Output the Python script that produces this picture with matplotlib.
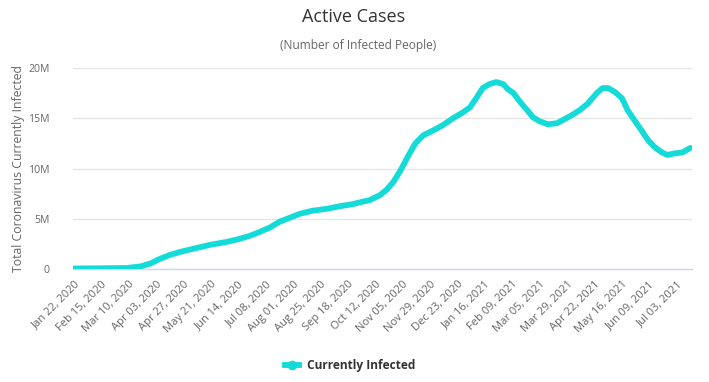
import matplotlib
matplotlib.use('Agg')
import matplotlib.pyplot as plt
from matplotlib.lines import Line2D

plt.rcParams['font.family'] = ['Open Sans', 'DejaVu Sans']

# Day offsets since Jan 22, 2020 and active cases (millions)
days = [0, 23, 46, 58, 67, 75, 84, 93, 104, 119,
        134, 145, 154, 163, 172, 180, 189, 198, 209, 222,
        233, 244, 253, 259, 268, 274, 280, 286, 293, 299,
        306, 314, 323, 332, 341, 347, 353, 358, 364, 370,
        376, 380, 385, 391, 397, 402, 408, 415, 423, 428,
        436, 443, 450, 458, 463, 468, 474, 480, 485, 491,
        498, 503, 509, 515, 520, 526, 533, 540]
active_millions = [0.05, 0.07, 0.1, 0.25, 0.55, 1.0, 1.4, 1.7, 2.0, 2.4,
                   2.7, 3.0, 3.3, 3.7, 4.15, 4.7, 5.1, 5.5, 5.8, 6.0,
                   6.25, 6.45, 6.7, 6.85, 7.35, 7.9, 8.7, 9.8, 11.3, 12.5,
                   13.3, 13.75, 14.3, 15.0, 15.6, 16.1, 17.1, 18.0, 18.4, 18.6,
                   18.4, 17.9, 17.5, 16.6, 15.8, 15.1, 14.7, 14.4, 14.5, 14.8,
                   15.3, 15.8, 16.45, 17.5, 18.0, 18.0, 17.6, 17.0, 15.8, 14.8,
                   13.65, 12.8, 12.1, 11.6, 11.35, 11.5, 11.6, 12.05]

tick_days = [0, 24, 48, 72, 96, 120, 144, 168, 192, 216, 240, 264,
             288, 312, 336, 360, 384, 408, 432, 456, 480, 504, 528]
tick_labels = ['Jan 22, 2020', 'Feb 15, 2020', 'Mar 10, 2020', 'Apr 03, 2020',
               'Apr 27, 2020', 'May 21, 2020', 'Jun 14, 2020', 'Jul 08, 2020',
               'Aug 01, 2020', 'Aug 25, 2020', 'Sep 18, 2020', 'Oct 12, 2020',
               'Nov 05, 2020', 'Nov 29, 2020', 'Dec 23, 2020', 'Jan 16, 2021',
               'Feb 09, 2021', 'Mar 05, 2021', 'Mar 29, 2021', 'Apr 22, 2021',
               'May 16, 2021', 'Jun 09, 2021', 'Jul 03, 2021']
y_ticks = [0, 5, 10, 15, 20]
y_labels = ['0', '5M', '10M', '15M', '20M']

W, H = 709, 382
fig = plt.figure(figsize=(W / 100, H / 100), dpi=100)
ax = fig.add_axes([73 / W, 1 - 269 / H, 619 / W, 201 / H])

color = '#14dbd8'
ax.plot(days, active_millions, color=color, lw=4.2,
        solid_capstyle='round', solid_joinstyle='round', zorder=3)

ax.set_xlim(-0.9, 541.4)
ax.set_ylim(0, 20)
ax.set_yticks(y_ticks)
ax.set_yticklabels(y_labels)
ax.set_xticks(tick_days)
ax.set_xticklabels(tick_labels, rotation=45, ha='right', va='top',
                   rotation_mode='anchor')
ax.tick_params(axis='x', length=0, pad=7, labelsize=8, labelcolor='#666666')
ax.tick_params(axis='y', length=0, pad=17, labelsize=7.6, labelcolor='#666666')
ax.grid(axis='y', color='#e6e6e6', lw=1)
ax.set_axisbelow(True)
for s in ['top', 'right', 'left']:
    ax.spines[s].set_visible(False)
ax.spines['bottom'].set_color('#ccd6eb')
ax.spines['bottom'].set_linewidth(1)

ax.set_ylabel('Total Coronavirus Currently Infected', color='#666666',
              fontsize=8.8)
ax.yaxis.set_label_coords(-48 / 619, 0.5)

fig.text(354 / W, 1 - 17 / H, 'Active Cases', ha='center', va='center',
         fontsize=13, color='#333333')
fig.text(358 / W, 1 - 45 / H, '(Number of Infected People)', ha='center',
         va='center', fontsize=8.6, color='#666666')

handle = Line2D([], [], color=color, lw=4.2, marker='o', markersize=6,
                markerfacecolor=color, markeredgecolor=color)
leg = fig.legend([handle], ['Currently Infected'], loc='center',
                 bbox_to_anchor=(350 / W, 1 - 366 / H), frameon=False,
                 handlelength=1.2, handletextpad=0.6,
                 prop={'weight': 'bold', 'size': 8.6})
for t in leg.get_texts():
    t.set_color('#333333')

fig.savefig('out.png', dpi=100, facecolor='white')
